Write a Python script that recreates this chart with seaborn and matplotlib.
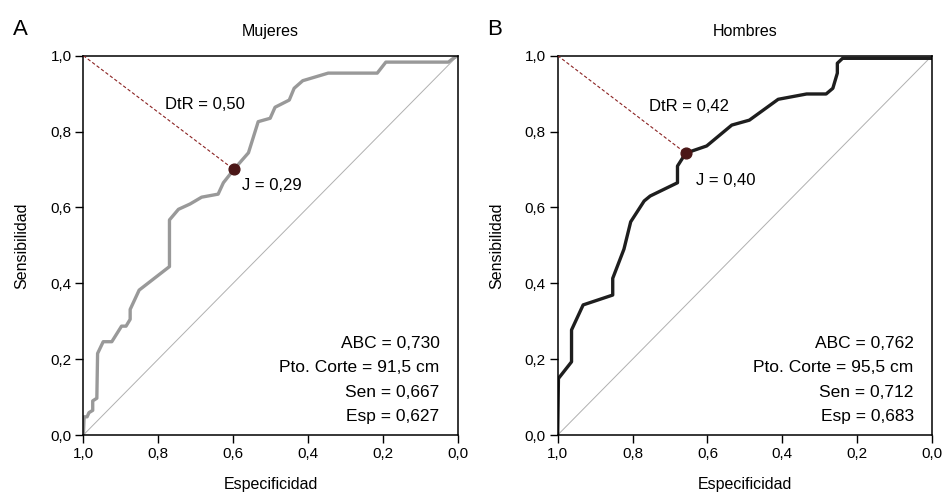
import pandas as pd
import matplotlib.pyplot as plt
import seaborn as sns

sns.set_style("white")
plt.rcParams["font.family"] = ["Liberation Sans", "DejaVu Sans"]
plt.rcParams["text.color"] = "black"
plt.rcParams["axes.labelcolor"] = "black"
plt.rcParams["xtick.color"] = "black"
plt.rcParams["ytick.color"] = "black"

# --------------------------------------------------
# Data
# --------------------------------------------------

# Mujeres
spec_m = [1.0, 0.998, 0.99, 0.985, 0.975, 0.975, 0.964, 0.962, 0.947, 0.924,
          0.898, 0.886, 0.875, 0.875, 0.851, 0.770, 0.770, 0.746, 0.715, 0.684,
          0.640, 0.626, 0.598, 0.559, 0.533, 0.501, 0.488, 0.450, 0.437, 0.414,
          0.346, 0.215, 0.192, 0.025, 0.012, 0.0]
sens_m = [0.0, 0.048, 0.048, 0.059, 0.065, 0.090, 0.097, 0.215, 0.246, 0.246,
          0.287, 0.287, 0.305, 0.331, 0.382, 0.444, 0.567, 0.595, 0.609, 0.627,
          0.635, 0.665, 0.700, 0.744, 0.826, 0.835, 0.864, 0.883, 0.914, 0.934,
          0.954, 0.954, 0.983, 0.983, 0.993, 1.0]

# Hombres
spec_h = [1.0, 0.998, 0.963, 0.963, 0.932, 0.853, 0.853, 0.823, 0.805, 0.769,
          0.753, 0.680, 0.680, 0.658, 0.602, 0.535, 0.488, 0.411, 0.335, 0.283,
          0.265, 0.253, 0.253, 0.239, 0.0]
sens_h = [0.0, 0.149, 0.193, 0.277, 0.343, 0.369, 0.413, 0.490, 0.562, 0.617,
          0.630, 0.665, 0.709, 0.743, 0.762, 0.817, 0.830, 0.885, 0.899, 0.899,
          0.914, 0.954, 0.980, 0.993, 0.993]

panels = ["A", "B"]
titles = ["Mujeres", "Hombres"]
colors = ["#999999", "#1e1e1e"]
best_spec = [0.598, 0.658]
best_sens = [0.700, 0.743]
dtr_text = ["DtR = 0,50", "DtR = 0,42"]
j_text = ["J = 0,29", "J = 0,40"]
stats = [["ABC = 0,730", "Pto. Corte = 91,5 cm", "Sen = 0,667", "Esp = 0,627"],
         ["ABC = 0,762", "Pto. Corte = 95,5 cm", "Sen = 0,712", "Esp = 0,683"]]

ticks = [1.0, 0.8, 0.6, 0.4, 0.2, 0.0]
tick_labels = ["1,0", "0,8", "0,6", "0,4", "0,2", "0,0"]

curves = [pd.DataFrame({"spec": spec_m, "sens": sens_m}),
          pd.DataFrame({"spec": spec_h, "sens": sens_h})]

# --------------------------------------------------
# Figure
# --------------------------------------------------

fig = plt.figure(figsize=(9.43, 4.97), dpi=100)
axes = [fig.add_axes([0.0884, 0.1247, 0.397, 0.7633]),
        fig.add_axes([0.5914, 0.1247, 0.397, 0.7633])]

dtr_pos = [(0.675, 0.870), (0.649, 0.866)]
j_pos = [(0.577, 0.659), (0.631, 0.672)]

for i, ax in enumerate(axes):
    # reference diagonal
    ax.plot([1, 0], [0, 1], color="#b0b0b0", linewidth=0.7, zorder=1)

    sns.lineplot(data=curves[i], x="spec", y="sens", sort=False,
                 estimator=None, color=colors[i], linewidth=2.4, ax=ax,
                 zorder=2)

    # distance to (1,1)
    ax.plot([1, best_spec[i]], [1, best_sens[i]], color="#8b2323",
            linestyle=(0, (3, 2)), linewidth=0.8, zorder=3)
    ax.scatter([best_spec[i]], [best_sens[i]], s=60, color="#4a1616",
               zorder=4)

    ax.text(dtr_pos[i][0], dtr_pos[i][1], dtr_text[i], ha="center",
            va="center", fontsize=12)
    ax.text(j_pos[i][0], j_pos[i][1], j_text[i], ha="left", va="center",
            fontsize=12)

    for k, line in enumerate(stats[i]):
        ax.text(0.049, 0.242 - k * 0.0645, line, ha="right", va="center",
                fontsize=12.5)

    ax.set_xlim(1.0, 0.0)
    ax.set_ylim(0.0, 1.0)
    ax.set_xticks(ticks)
    ax.set_xticklabels(tick_labels)
    ax.set_yticks(ticks)
    ax.set_yticklabels(tick_labels)
    ax.tick_params(axis="both", direction="out", length=5.5, width=1,
                   pad=3, labelsize=11, bottom=True, left=True,
                   color="black")

    for side in ["top", "right", "bottom", "left"]:
        ax.spines[side].set_color("black")
        ax.spines[side].set_linewidth(1.1)

    ax.set_xlabel("Especificidad", fontsize=11.5, labelpad=12)
    ax.set_ylabel("Sensibilidad", fontsize=11.5, labelpad=15)
    ax.set_title(titles[i], fontsize=11.5, pad=14)

fig.text(0.014, 0.94, "A", fontsize=16, va="center", ha="left")
fig.text(0.517, 0.94, "B", fontsize=16, va="center", ha="left")

plt.savefig("out.png", dpi=100)
plt.close()
